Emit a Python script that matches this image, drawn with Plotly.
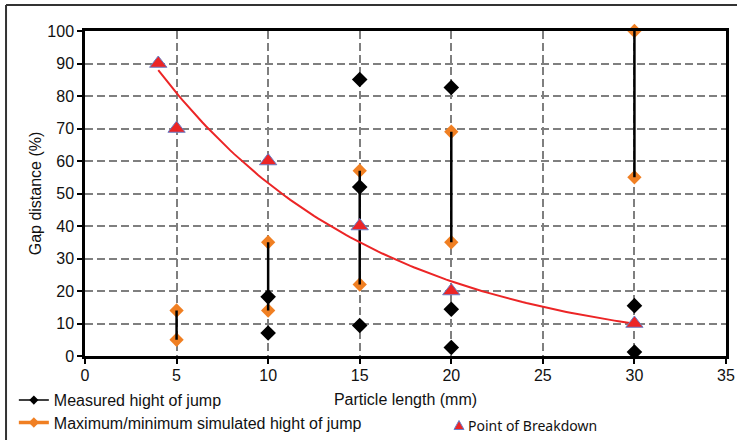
import numpy as np
import plotly.graph_objects as go

# Particle length (mm) and measured jump heights (%)
measured_x = [10, 10, 15, 15, 15, 20, 20, 20, 30, 30]
measured_y = [18.2, 7.1, 85.1, 52.0, 9.4, 82.6, 14.4, 2.6, 15.5, 1.2]

# Simulated jump height range (%) per particle length
sim_x = [5, 10, 15, 20, 30]
sim_max = [14, 35, 57, 69, 100]
sim_min = [5, 14, 22, 35, 55]

# Breakdown points
brk_x = [4, 5, 10, 15, 20, 30]
brk_y = [90, 70, 60, 40, 20, 10]

ORANGE = "#F07F22"
RED = "#EC2526"
EDGE = "#6A7FC8"
GRID = "#7f7f7f"
FONT = "Liberation Sans"

# Plot-area size in pixels (used to place the hand-drawn key items)
W_PLOT = 737 - 85 - 11
H_PLOT = 440 - 31 - 84

# Exponential trend through the breakdown points (least squares on log y)
b, ln_a = np.polyfit(brk_x, np.log(brk_y), 1)
fit_x = np.linspace(min(brk_x), max(brk_x), 120)
fit_y = np.exp(ln_a) * np.exp(b * fit_x)

fig = go.Figure()

# Orange simulated min / max markers
fig.add_trace(go.Scatter(
    x=sim_x + sim_x, y=sim_max + sim_min, mode="markers",
    marker=dict(symbol="diamond", size=11, color=ORANGE),
    showlegend=False, hoverinfo="skip", cliponaxis=False))

# Black high-low bars joining min and max
hl_x, hl_y = [], []
for x, lo, hi in zip(sim_x, sim_min, sim_max):
    hl_x += [x, x, None]
    hl_y += [lo, hi, None]
fig.add_trace(go.Scatter(
    x=hl_x, y=hl_y, mode="lines", line=dict(color="black", width=2.5),
    showlegend=False, hoverinfo="skip"))

# Measured points
fig.add_trace(go.Scatter(
    x=measured_x, y=measured_y, mode="markers",
    marker=dict(symbol="diamond", size=12, color="black"),
    showlegend=False, cliponaxis=False))

# Trend line
fig.add_trace(go.Scatter(
    x=fit_x, y=fit_y, mode="lines", line=dict(color=RED, width=2),
    showlegend=False, hoverinfo="skip"))

# Breakdown triangles
fig.add_trace(go.Scatter(
    x=brk_x, y=brk_y, mode="markers",
    marker=dict(symbol="triangle-up", size=15, color=RED,
                line=dict(color=EDGE, width=1)),
    showlegend=False, cliponaxis=False))

# Legend entries
fig.add_trace(go.Scatter(
    x=[None], y=[None], mode="lines+markers", name="Measured hight of jump",
    line=dict(color="black", width=1.5),
    marker=dict(symbol="diamond", size=7, color="black"),
    legend="legend"))
fig.add_trace(go.Scatter(
    x=[None], y=[None], mode="lines+markers",
    name="Maximum/minimum simulated hight of jump",
    line=dict(color=ORANGE, width=3.5),
    marker=dict(symbol="diamond", size=8, color=ORANGE),
    legend="legend2"))

axis_common = dict(
    showline=True, linecolor="black", linewidth=2.5, mirror=True,
    ticks="outside", ticklen=5, tickwidth=2, tickcolor="black",
    showgrid=True, gridcolor=GRID, gridwidth=2, griddash="8px,4px",
    zeroline=False, automargin=False,
)

fig.update_xaxes(
    range=[0, 35], tick0=0, dtick=5, **axis_common,
    tickfont=dict(family=FONT, size=16, color="#111"), ticklabelstandoff=-2,
    title=dict(text="Particle length (mm)", font=dict(family=FONT, size=16, color="#111"),
               standoff=11))
fig.update_yaxes(
    range=[0, 100], tick0=0, dtick=10, **axis_common,
    tickfont=dict(family=FONT, size=16, color="#111"),
    title=dict(text="Gap distance (%)", font=dict(family=FONT, size=16, color="#111"),
               standoff=2))

legend_common = dict(
    orientation="h", xanchor="left", yanchor="middle",
    bgcolor="rgba(0,0,0,0)", borderwidth=0, itemwidth=30,
    font=dict(family=FONT, size=16, color="#111"))

# Key item for the breakdown points: small triangle + label
tri_cx = (459 - 85) / W_PLOT
tri_cy = (356 - 425) / H_PLOT
hw, hh = 5 / W_PLOT, 4.5 / H_PLOT
tri_path = (f"M {tri_cx - hw} {tri_cy - hh} L {tri_cx + hw} {tri_cy - hh} "
            f"L {tri_cx} {tri_cy + hh} Z")

fig.update_layout(
    width=737, height=440,
    margin=dict(l=85, r=11, t=31, b=84, autoexpand=False),
    plot_bgcolor="white", paper_bgcolor="white",
    legend=dict(x=-0.111, y=-0.136, **legend_common),
    legend2=dict(x=-0.111, y=-0.205, **legend_common),
    annotations=[dict(
        text="Point of Breakdown", xref="paper", yref="paper",
        x=(466 - 85) / W_PLOT, y=tri_cy, xanchor="left", yanchor="middle",
        showarrow=False, font=dict(family="Noto Sans", size=14, color="#111"))],
    shapes=[
        dict(type="line", xref="paper", yref="paper", x0=-0.1232, x1=1.02,
             y0=1.08, y1=1.08, line=dict(color="#333", width=2)),
        dict(type="line", xref="paper", yref="paper", x0=-0.1232, x1=-0.1232,
             y0=1.08, y1=-0.26, line=dict(color="#333", width=2)),
        dict(type="path", xref="paper", yref="paper", path=tri_path,
             fillcolor=RED, line=dict(color=EDGE, width=1)),
    ],
)

fig.write_html("out.html")
